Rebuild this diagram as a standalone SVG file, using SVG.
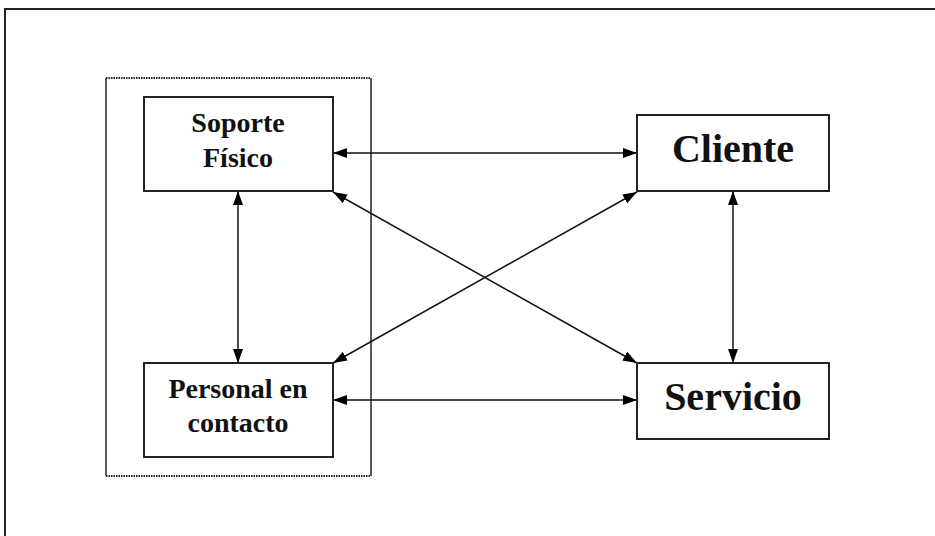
<svg xmlns="http://www.w3.org/2000/svg" width="935" height="536" viewBox="0 0 935 536">
  <style>
    .box { fill: #fff; stroke: #222; stroke-width: 2; }
    .lbl { font-family: "Liberation Serif", "Times New Roman", serif; font-weight: bold; fill: #111; text-anchor: middle; }
    .small { font-size: 28px; }
    .big { font-size: 40px; }
    .conn { stroke: #111; stroke-width: 1.5; fill: none; marker-start: url(#head); marker-end: url(#head); }
  </style>
  <defs>
    <marker id="head" viewBox="0 0 14 10" refX="14" refY="5" markerWidth="14" markerHeight="10" markerUnits="userSpaceOnUse" orient="auto-start-reverse">
      <path d="M0,0 L14,5 L0,10 Z" fill="#000"/>
    </marker>
  </defs>

  <rect width="935" height="536" fill="#fff"/>
  <!-- page frame -->
  <rect x="5" y="9" width="945" height="545" fill="none" stroke="#222" stroke-width="2"/>

  <!-- grouping frame around the two left nodes -->
  <g id="group-frame" stroke="#222" fill="none">
    <line x1="106" y1="78" x2="371" y2="78" stroke-width="2" stroke-dasharray="1.5 1"/>
    <line x1="106" y1="476" x2="371" y2="476" stroke-width="2" stroke-dasharray="1.5 1"/>
    <line x1="106" y1="78" x2="106" y2="476" stroke-width="1.5"/>
    <line x1="371" y1="78" x2="371" y2="476" stroke-width="1.5"/>
  </g>

  <g id="connectors">
    <line class="conn" x1="333" y1="153" x2="637" y2="153"/>
    <line class="conn" x1="333" y1="400" x2="637" y2="400"/>
    <line class="conn" x1="238" y1="191" x2="238" y2="363"/>
    <line class="conn" x1="733" y1="191" x2="733" y2="363"/>
    <line class="conn" x1="333" y1="192" x2="637" y2="363"/>
    <line class="conn" x1="333" y1="363" x2="637" y2="192"/>
  </g>

  <g id="soporte-fisico">
    <rect class="box" x="144" y="97" width="189" height="94"/>
    <text class="lbl small" x="238" y="132">Soporte</text>
    <text class="lbl small" x="238" y="167">Físico</text>
  </g>

  <g id="personal-en-contacto">
    <rect class="box" x="144" y="363" width="189" height="94"/>
    <text class="lbl small" x="238" y="398">Personal en</text>
    <text class="lbl small" x="238" y="432">contacto</text>
  </g>

  <g id="cliente">
    <rect class="box" x="637" y="115" width="192" height="76"/>
    <text class="lbl big" x="733" y="162">Cliente</text>
  </g>

  <g id="servicio">
    <rect class="box" x="637" y="363" width="192" height="76"/>
    <text class="lbl big" x="733" y="410">Servicio</text>
  </g>
</svg>
